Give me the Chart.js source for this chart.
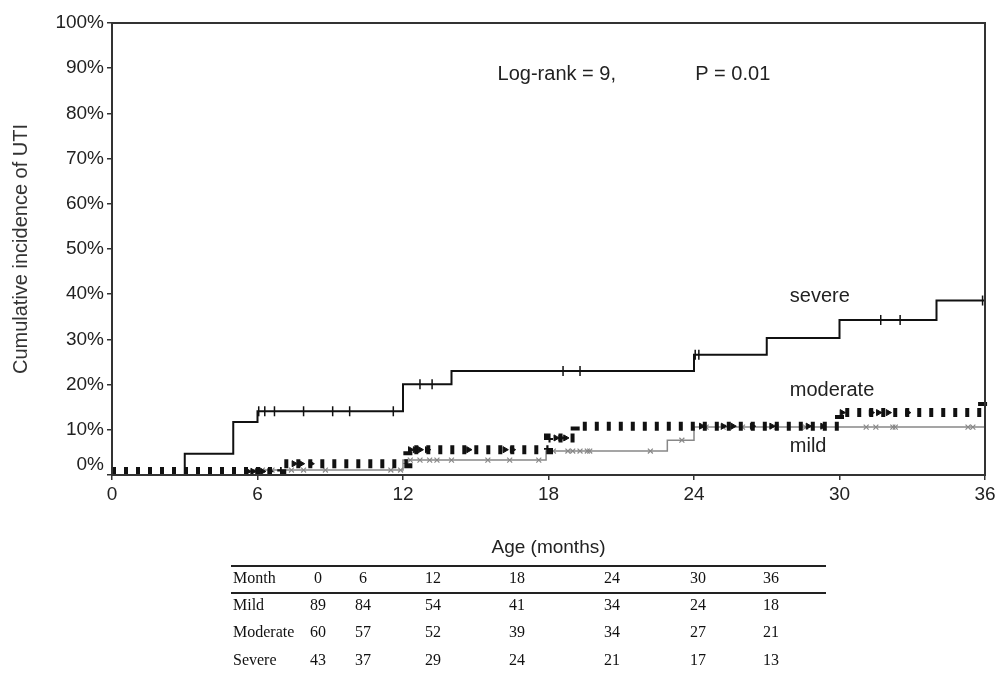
<!DOCTYPE html>
<html>
<head>
<meta charset="utf-8">
<script src="https://cdn.jsdelivr.net/npm/chart.js@4/dist/chart.umd.min.js"></script>
<style>
body { margin: 0; background: #fff; }
#wrap { position: relative; width: 1004px; height: 678px; overflow: hidden; }
#chart { position: absolute; left: 0; top: 0; }
.cell { position: absolute; font-family: "Liberation Serif", "Times New Roman", serif; font-size: 16px; color: #111; line-height: 18px; margin-top: -9px; }
.rule { position: absolute; left: 231px; width: 595px; background: #222; }
</style>
</head>
<body>
<div id="wrap">
  <canvas id="chart" width="1004" height="678"></canvas>
</div>
<script>
// Kaplan-Meier style step curves: time (months) where the level jumps, and level after it (%)
const severeTimes = [0, 3, 5, 6, 12, 14, 24, 27, 30, 34, 36];
const severeLevels = [0, 4.7, 11.7, 14.1, 20.1, 23.0, 26.6, 30.3, 34.3, 38.6, 38.6];
const severeCensored = [6.05, 6.3, 6.7, 7.9, 9.1, 9.8, 11.6, 12.7, 13.2, 18.6, 19.3, 24.05, 24.2, 31.7, 32.5, 35.9];

const moderateTimes = [0, 7, 12.2, 18, 19.1, 30, 35.9];
const moderateLevels = [0.8, 2.5, 5.6, 8.2, 10.8, 13.8, 17.0];
const moderateCensored = [5.6, 5.8, 6.0, 6.2, 6.5, 7.5, 7.8, 8.2, 12.3, 12.5, 12.7, 13.0, 14.7, 16.2, 16.5, 18.3, 18.5, 18.7, 24.3, 25.2, 25.6, 26.4, 27.2, 28.7, 29.3, 30.1, 31.3, 31.6, 32.0, 32.8];

const mildTimes = [0, 5.8, 12, 17.9, 22.9, 24, 36];
const mildLevels = [0, 1.1, 3.3, 5.3, 7.7, 10.6, 10.6];
const mildCensored = [6.2, 6.6, 7.4, 7.9, 8.8, 11.5, 11.9, 12.3, 12.7, 13.1, 13.4, 14.0, 15.5, 16.4, 17.6, 18.2, 18.8, 19.0, 19.3, 19.6, 19.7, 22.2, 23.5, 24.5, 25.2, 26.0, 27.4, 28.6, 31.1, 31.5, 32.2, 32.3, 35.3, 35.5];

// numbers at risk table
const tableMonths = [0, 6, 12, 18, 24, 30, 36];
const atRiskMild = [89, 84, 54, 41, 34, 24, 18];
const atRiskModerate = [60, 57, 52, 39, 34, 27, 21];
const atRiskSevere = [43, 37, 29, 24, 21, 17, 13];

const fontFam = '"Liberation Sans", Arial, sans-serif';

function steps(times, levels) {
  return times.map((t, i) => ({ x: t, y: levels[i] }));
}
function levelAt(times, levels, t) {
  let v = levels[0];
  for (let i = 0; i < times.length; i++) if (t >= times[i]) v = levels[i];
  return v;
}
function marks(times, levels, cens) {
  return cens.map(t => ({ x: t, y: levelAt(times, levels, t) }));
}

// text labels inside the plot, placed in data units
const notes = [
  { text: 'Log-rank = 9,', x: 15.9, y: 88.7 },
  { text: 'P = 0.01', x: 24.05, y: 88.7 },
  { text: 'severe', x: 27.95, y: 39.6 },
  { text: 'moderate', x: 27.95, y: 18.6 },
  { text: 'mild', x: 27.95, y: 6.4 }
];

const framePlugin = {
  id: 'frame',
  afterDraw(chart) {
    const { ctx, chartArea: a, scales } = chart;
    ctx.save();
    ctx.strokeStyle = '#333';
    ctx.lineWidth = 2;
    ctx.strokeRect(a.left, a.top, a.right - a.left, a.bottom - a.top);
    ctx.fillStyle = '#222';
    ctx.font = '20px ' + fontFam;
    ctx.textBaseline = 'middle';
    ctx.textAlign = 'left';
    notes.forEach(n => {
      ctx.fillText(n.text, scales.x.getPixelForValue(n.x), scales.y.getPixelForValue(n.y));
    });
    // the 0% label sits a little above the axis line
    ctx.font = '19px ' + fontFam;
    ctx.textAlign = 'right';
    ctx.fillText('0%', a.left - 8, scales.y.getPixelForValue(0) - 10);
    ctx.restore();
  }
};

new Chart(document.getElementById('chart'), {
  type: 'line',
  data: {
    datasets: [
      {
        data: steps(severeTimes, severeLevels),
        stepped: 'before',
        borderColor: '#111',
        borderWidth: 2,
        pointRadius: 0
      },
      {
        data: marks(severeTimes, severeLevels, severeCensored),
        showLine: false,
        pointStyle: 'line',
        rotation: 90,
        pointRadius: 5,
        borderColor: '#111',
        borderWidth: 1.5,
        clip: false
      },
      {
        data: marks(moderateTimes, moderateLevels, moderateCensored),
        showLine: false,
        pointStyle: 'triangle',
        rotation: 90,
        pointRadius: 3.5,
        backgroundColor: '#111',
        borderColor: '#111',
        borderWidth: 1,
        clip: false
      },
      {
        data: steps(moderateTimes, moderateLevels),
        stepped: 'before',
        borderColor: '#111',
        borderWidth: 9,
        borderDash: [4, 8],
        borderCapStyle: 'butt',
        pointRadius: 0,
        clip: false
      },
      {
        data: marks(mildTimes, mildLevels, mildCensored),
        showLine: false,
        pointStyle: 'crossRot',
        pointRadius: 3.5,
        borderColor: '#888',
        borderWidth: 1.2,
        clip: false
      },
      {
        data: steps(mildTimes, mildLevels),
        stepped: 'before',
        borderColor: '#888',
        borderWidth: 1.5,
        pointRadius: 0
      }
    ]
  },
  options: {
    responsive: false,
    animation: false,
    devicePixelRatio: 1,
    layout: { padding: { top: 23, right: 19, bottom: 113, left: 0 } },
    plugins: { legend: { display: false }, tooltip: { enabled: false } },
    scales: {
      x: {
        type: 'linear',
        min: 0,
        max: 36,
        afterFit(scale) { scale.height = 90; },
        ticks: { stepSize: 6, color: '#222', padding: 3, font: { family: fontFam, size: 19 }, maxRotation: 0 },
        grid: { drawOnChartArea: false, drawTicks: true, tickLength: 5, color: '#333', lineWidth: 1.5 },
        border: { display: true, color: '#333', width: 2 },
        title: { display: true, text: 'Age (months)', color: '#222', font: { family: fontFam, size: 19 }, padding: { top: 4, bottom: 6 } }
      },
      y: {
        min: 0,
        max: 100,
        afterFit(scale) { scale.width = 112; },
        ticks: { stepSize: 10, color: '#222', padding: 3, font: { family: fontFam, size: 19 }, callback: v => (v === 0 ? '' : v + '%') },
        grid: { drawOnChartArea: false, drawTicks: true, tickLength: 5, color: '#333', lineWidth: 1.5 },
        border: { display: true, color: '#333', width: 2 },
        title: { display: true, text: 'Cumulative incidence of UTI', color: '#333', font: { family: fontFam, size: 20 }, padding: { top: 9, bottom: 4 } }
      }
    }
  },
  plugins: [framePlugin]
});

// at-risk table under the chart
const wrap = document.getElementById('wrap');
const colX = [318, 363, 433, 517, 612, 698, 771];
const rowY = [578, 605, 632, 660];
const rows = [
  ['Month', tableMonths],
  ['Mild', atRiskMild],
  ['Moderate', atRiskModerate],
  ['Severe', atRiskSevere]
];
function addCell(text, left, top, center) {
  const d = document.createElement('div');
  d.className = 'cell';
  d.textContent = text;
  d.style.top = top + 'px';
  if (center) {
    d.style.left = (left - 30) + 'px';
    d.style.width = '60px';
    d.style.textAlign = 'center';
  } else {
    d.style.left = left + 'px';
  }
  wrap.appendChild(d);
}
rows.forEach((r, i) => {
  addCell(r[0], 233, rowY[i], false);
  r[1].forEach((v, j) => addCell(String(v), colX[j], rowY[i], true));
});
function addRule(top, h) {
  const d = document.createElement('div');
  d.className = 'rule';
  d.style.top = top + 'px';
  d.style.height = h + 'px';
  wrap.appendChild(d);
}
addRule(565, 1.5);
addRule(592, 2);
</script>
</body>
</html>
